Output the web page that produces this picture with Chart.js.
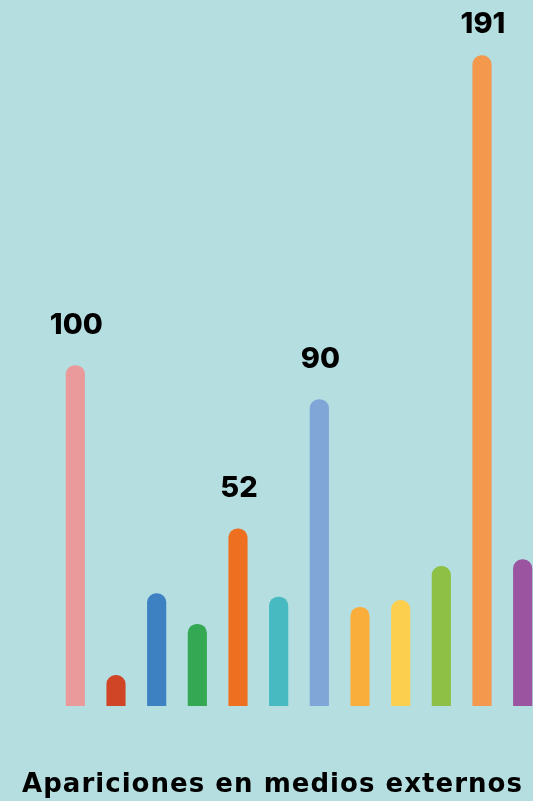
<!DOCTYPE html>
<html>
<head>
<meta charset="utf-8">
<script src="https://cdn.jsdelivr.net/npm/chart.js@4"></script>
<style>
  html, body { margin: 0; padding: 0; background: #B4DEE0; overflow: hidden; }
  #wrap { position: absolute; left: 0; top: 0; width: 544px; height: 801px; }
</style>
</head>
<body>
<div id="wrap"><canvas id="c"></canvas></div>
<script>
// ---- data ----
const categories = ["1", "2", "3", "4", "5", "6", "7", "8", "9", "10", "11", "12"];
const values = [100, 9, 33, 24, 52, 32, 90, 29, 31, 41, 191, 43];
const barColors = ["#EA9A9B", "#CF4526", "#3E81C3", "#34A853", "#EE6F1F", "#46B9C1",
                   "#80A6D7", "#F9AE3C", "#FCCF4E", "#8DC044", "#F4984D", "#9B54A0"];
const labeledBars = [0, 4, 6, 10];
const titleText = "Apariciones en medios externos";

const valueLabels = {
  id: 'valueLabels',
  afterDatasetsDraw(chart) {
    const ctx = chart.ctx;
    const meta = chart.getDatasetMeta(0);
    ctx.save();
    ctx.font = "800 29px Inter";
    ctx.fillStyle = "#000";
    ctx.textAlign = "center";
    ctx.textBaseline = "alphabetic";
    labeledBars.forEach(i => {
      const bar = meta.data[i];
      const y = Math.max(bar.y - 32, 33);
      ctx.fillText(String(values[i]), bar.x + 1, y);
    });
    ctx.restore();
  }
};

const bottomTitle = {
  id: 'bottomTitle',
  afterDraw(chart) {
    const ctx = chart.ctx;
    ctx.save();
    ctx.font = "bold 26px 'DejaVu Sans'";
    ctx.fillStyle = "#000";
    ctx.textAlign = "left";
    ctx.textBaseline = "alphabetic";
    const targetWidth = 500;
    const w = ctx.measureText(titleText).width;
    const sp = (targetWidth - w) / (titleText.length - 1);
    if ('letterSpacing' in ctx) ctx.letterSpacing = sp.toFixed(2) + "px";
    ctx.fillText(titleText, 22, 792);
    ctx.restore();
  }
};

new Chart(document.getElementById('c'), {
  type: 'bar',
  data: {
    labels: categories,
    datasets: [{
      data: values,
      backgroundColor: barColors,
      borderWidth: 0,
      borderRadius: 9,
      borderSkipped: 'bottom',
      barThickness: 18.5
    }]
  },
  options: {
    responsive: true,
    maintainAspectRatio: false,
    animation: false,
    layout: { padding: { left: 55, right: 1, top: 25, bottom: 95 } },
    scales: {
      x: { display: false },
      y: { display: false, min: 0, max: 200 }
    },
    plugins: {
      legend: { display: false },
      tooltip: { enabled: false },
      title: { display: false }
    }
  },
  plugins: [valueLabels, bottomTitle]
});
</script>
</body>
</html>
